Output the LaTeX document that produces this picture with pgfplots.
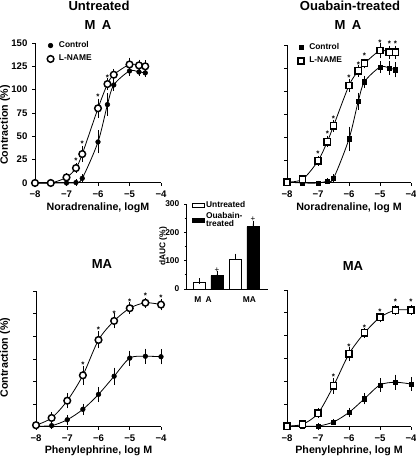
\documentclass[border=0pt]{standalone}
\usepackage{fontspec}
\setmainfont{Liberation Sans}
\usepackage{pgfplots}
\usepackage{pgfplotstable}
\pgfplotsset{compat=1.18}
\newcommand{\fs}[1]{\fontsize{#1}{#1}\selectfont\bfseries}

% Top-left: Noradrenaline, untreated
\pgfplotstableread{
x y e
-8 0 0
-7.5 0 0
-7 0 0
-6.7 0.5 1
-6.5 5 2
-6 44 10
-5.7 84 10
-5.5 105 4
-5 120 3
-4.7 119 2
-4.5 118 2
}\TLc
\pgfplotstableread{
x y e
-8 0 0
-7.5 0 1
-7 6 2
-6.7 16 3
-6.5 31 6
-6 80 8
-5.7 106 4
-5.5 116 4
-5 127 5
-4.7 126 4
-4.5 125 4
}\TLl
% Top-right: Noradrenaline, ouabain-treated
\pgfplotstableread{
x y e
-8 1 0
-7.5 0 0
-7 0 0
-6.7 2 1
-6.5 5 2
-6 48 11
-5.7 89 7
-5.5 110 4
-5 126 4
-4.7 125 5
-4.5 123 6
}\TRc
\pgfplotstableread{
x y e
-8 1 0
-7.5 4 1
-7 24 3
-6.7 45 4
-6.5 62 4
-6 106 5
-5.7 122 4
-5.5 130 3
-5 144 6
-4.7 142 5
-4.5 142 5
}\TRl
% Bottom-left: Phenylephrine, untreated
\pgfplotstableread{
x y e
-8 1 0
-7.5 1.5 1
-7 8 3
-6.5 19.5 4
-6 36 6
-5.5 56 7
-5 76 6
-4.5 78 6
-4 77.5 6
}\BLc
\pgfplotstableread{
x y e
-8 2 1
-7.5 10 4
-7 29 6
-6.5 57 8
-6 96 7
-5.5 117 6
-5 131 4
-4.5 137 3
-4 135 4
}\BLl
% Bottom-right: Phenylephrine, ouabain-treated
\pgfplotstableread{
x y e
-8 1 0
-7.5 1 0
-7 1 1
-6.5 5.5 1
-6 16 3
-5.5 31 4
-5 46 5
-4.5 49 6
-4 47 5
}\BRc
\pgfplotstableread{
x y e
-8 1 0
-7.5 3 1
-7 15 3
-6.5 45 6
-6 80 5
-5.5 103 3
-5 120 3
-4.5 128 3
-4 128 3
}\BRl

\pgfplotsset{
  crv/.style={
    scale only axis, axis x line*=bottom, axis y line*=left,
    xmin=-8, xmax=-4, ymin=0, ymax=150,
    xtick={-8,-7,-6,-5,-4}, xticklabels={−8,−7,−6,−5,−4},
    ytick={0,25,50,75,100,125,150},
    tick align=outside, major tick length=2.2pt,
    every tick/.style={line width=0.7pt, black},
    axis line style={line width=0.75pt, black},
    x tick label style={font=\fs{7.2}},
    y tick label style={font=\fs{7.2}},
    clip=false,
    label style={font=\fs{8}},
    /pgf/number format/assume math mode=true,
    legend style={draw=none, fill=none, inner sep=0pt, font=\fs{6.3},
      row sep=2.5pt, column sep=3pt, nodes={inner sep=0.8pt}, anchor=north west},
    legend cell align=left,
    legend image code/.code={\draw[mark repeat=1,##1] plot coordinates {(0pt,0pt)};},
  },
  fit/.style={smooth, tension=0.5, line width=0.6pt, black, no markers, forget plot},
  ebar/.style={error bars/y dir=both, error bars/y explicit,
    error bars/error bar style={line width=0.5pt, black},
    error bars/error mark options={line width=0.5pt, mark size=1.6pt, black}},
  cdot/.style={only marks, black, mark=*, mark size=1.75pt, ebar},
  odot/.style={only marks, black, mark=*, mark size=2.5pt, mark options={fill=white, line width=1.1pt}, ebar},
  csq/.style={only marks, black, mark=square*, mark size=1.6pt, ebar},
  osq/.style={only marks, black, mark=square*, mark size=2.4pt, mark options={fill=white, line width=1.1pt}, ebar},
  stars/.style={only marks, mark=text, text mark={\fs{6}*}, forget plot},
}

\begin{document}
\begin{tikzpicture}[x=0.75pt,y=0.75pt]
\useasboundingbox (0,0) rectangle (416,459);
\coordinate (TL) at (35,276);
\coordinate (TR) at (287,276);
\coordinate (BL) at (36,32);
\coordinate (BR) at (287,32);
\coordinate (IN) at (186.7,170);

% titles
\node[font=\fs{9.8}] at (99,453) {Untreated};
\node[font=\fs{9.8}] at (98,434) {M\hspace{0.5em}A};
\node[font=\fs{9.8}] at (350,453) {Ouabain-treated};
\node[font=\fs{9.8}] at (348,434) {M\hspace{0.5em}A};
\node[font=\fs{9.8}] at (102,195) {MA};
\node[font=\fs{9.8}] at (353,193) {MA};

% top-left
\begin{axis}[crv, at={(TL)}, anchor=south west, width=94.5pt, height=105pt,
  ylabel={Contraction (\%)}, xlabel={Noradrenaline, logM},
  xlabel style={at={(axis description cs:0.5,-0.178)}, anchor=center},
  ylabel style={at={(axis description cs:-0.238,0.414)}, anchor=center},
  legend style={at={(axis cs:-7.62,153)}}]
\addplot[fit] table[x=x,y=y] {\TLc};
\addplot[fit] table[x=x,y=y] {\TLl};
\addplot[cdot] table[x=x,y=y,y error=e] {\TLc};
\addlegendentry{Control}
\addplot[odot] table[x=x,y=y,y error=e] {\TLl};
\addlegendentry{L-NAME}
\addplot[stars] coordinates {(-6.7,24) (-6.5,42) (-6,92) (-5.7,113)};
\end{axis}

% top-right
\begin{axis}[crv, at={(TR)}, anchor=south west, width=93pt, height=103.5pt,
  yticklabels={}, xlabel={Noradrenaline, log M},
  xlabel style={at={(axis description cs:0.5,-0.181)}, anchor=center},
  legend style={at={(axis cs:-7.66,153)}}]
\addplot[fit] table[x=x,y=y] {\TRc};
\addplot[fit] table[x=x,y=y] {\TRl};
\addplot[csq] table[x=x,y=y,y error=e] {\TRc};
\addlegendentry{Control}
\addplot[osq] table[x=x,y=y,y error=e] {\TRl};
\addlegendentry{L-NAME}
\addplot[stars] coordinates {(-7,32) (-6.7,53) (-6.5,70) (-6,114) (-5.7,128) (-5.5,138) (-5,152) (-4.7,151) (-4.5,151)};
\end{axis}

% bottom-left
\begin{axis}[crv, at={(BL)}, anchor=south west, width=93.75pt, height=102pt,
  yticklabels={}, ylabel={Contraction (\%)}, xlabel={Phenylephrine, log M},
  xlabel style={at={(axis description cs:0.5,-0.176)}, anchor=center},
  ylabel style={at={(axis description cs:-0.248,0.51)}, anchor=center}]
\addplot[fit] table[x=x,y=y] {\BLc};
\addplot[fit] table[x=x,y=y] {\BLl};
\addplot[cdot] table[x=x,y=y,y error=e] {\BLc};
\addplot[odot] table[x=x,y=y,y error=e] {\BLl};
\addplot[stars] coordinates {(-6.5,69) (-6,107) (-5.5,125) (-5,138) (-4.5,145) (-4,143)};
\end{axis}

% bottom-right
\begin{axis}[crv, at={(BR)}, anchor=south west, width=93pt, height=102.75pt,
  yticklabels={}, xlabel={Phenylephrine, log M},
  xlabel style={at={(axis description cs:0.5,-0.176)}, anchor=center}]
\addplot[fit] table[x=x,y=y] {\BRc};
\addplot[fit] table[x=x,y=y] {\BRl};
\addplot[csq] table[x=x,y=y,y error=e] {\BRc};
\addplot[osq] table[x=x,y=y,y error=e] {\BRl};
\addplot[stars] coordinates {(-6.5,55) (-6,88) (-5.5,109) (-5,126) (-4.5,137) (-4,137)};
\end{axis}

% inset bar chart
\begin{axis}[scale only axis, at={(IN)}, anchor=south west, width=61pt, height=63.75pt,
  axis x line*=bottom, axis y line*=left, xmin=0.32, xmax=4.84, ymin=0, ymax=300,
  ytick={0,100,200,300}, minor ytick={50,150,250},
  tick align=outside, major tick length=2pt, minor tick length=1.5pt,
  every tick/.style={line width=0.6pt, black},
  axis line style={line width=0.7pt, black},
  xtick={1.23,3.8}, xticklabels={M\hspace{0.5em}A, MA}, xtick style={draw=none},
  ticklabel style={font=\fs{6.3}},
  /pgf/number format/assume math mode=true,
  ylabel={dAUC (\%)}, ylabel style={font=\fs{6.3}, at={(axis description cs:-0.29,0.5)}, anchor=center},
  clip=false,
  legend style={draw=none, fill=none, inner sep=0pt, font=\fs{6.3}, at={(axis cs:0.61,314)}, anchor=north west,
    row sep=0.5pt, column sep=0pt, nodes={inner sep=0.8pt}, cells={align=left}},
  legend cell align=left,
  legend image code/.code={\draw[#1,/tikz/.cd] (0pt,-1.6pt) rectangle (9pt,1.6pt);}]
\addplot[ybar, bar width=9pt, bar shift=0pt, fill=white, draw=black, line width=0.6pt,
  error bars/y dir=plus, error bars/y explicit,
  error bars/error mark options={mark size=2pt, line width=0.5pt}]
  coordinates {(1,25) +- (0,3) (3,105) +- (0,10)};
\addlegendentry{Untreated}
\addplot[ybar, bar width=9pt, bar shift=0pt, fill=black, draw=black, line width=0.6pt,
  error bars/y dir=plus, error bars/y explicit,
  error bars/error mark options={mark size=2pt, line width=0.5pt}]
  coordinates {(2,47) +- (0,6) (4,220) +- (0,11)};
\addlegendentry{Ouabain-\\treated}
\addplot[only marks, mark=text, text mark={\fontsize{6}{6}\selectfont +}, forget plot]
  coordinates {(2,68) (4,246)};
\end{axis}
\end{tikzpicture}
\end{document}
